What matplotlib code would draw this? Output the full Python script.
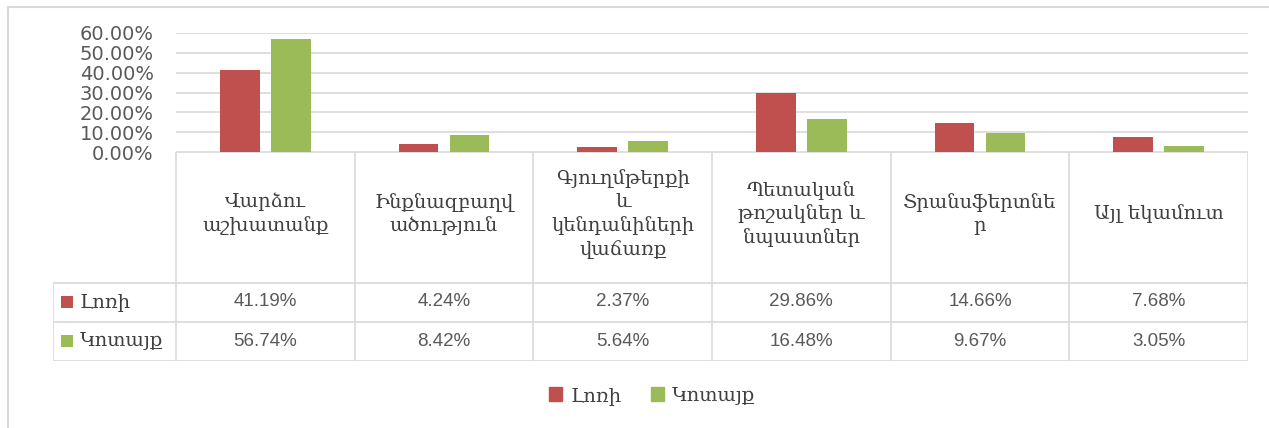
import matplotlib
matplotlib.use("Agg")
import matplotlib.pyplot as plt
from matplotlib.lines import Line2D
from matplotlib.patches import Rectangle
import numpy as np

# data
categories = ["Վարձու\nաշխատանք", "Ինքնազբաղվ\nածություն",
              "Գյուղմթերքի\nև\nկենդանիների\nվաճառք",
              "Պետական\nթոշակներ և\nնպաստներ", "Տրանսֆերտնե\nր", "Այլ եկամուտ"]
series_names = ["Լոռի", "Կոտայք"]
lori = [41.19, 4.24, 2.37, 29.86, 14.66, 7.68]
kotayk = [56.74, 8.42, 5.64, 16.48, 9.67, 3.05]
colors = ["#C0504D", "#9BBB59"]
yticks = [0, 10, 20, 30, 40, 50, 60]

W, H = 1269, 428
GRID = "#d9d9d9"
TXT = "#595959"
ARM = ["DejaVu Serif", "DejaVu Sans"]

fig = plt.figure(figsize=(W / 100, H / 100), dpi=100)

def fx(px):
    return px / W

def fy(py):
    return 1 - py / H

# chart border (left and top only, rest cut off)
fig.add_artist(Line2D([fx(8), fx(8)], [fy(7), fy(428)], color=GRID, lw=1.5))
fig.add_artist(Line2D([fx(8), fx(1269)], [fy(7), fy(7)], color=GRID, lw=1.5))

# bar axes
ax = fig.add_axes([fx(176), fy(152), fx(1248) - fx(176), fy(33) - fy(152)])
n = len(categories)
x = np.arange(n) + 0.5
bw = 0.222
ax.bar(x - 0.143, lori, bw, color=colors[0], zorder=3)
ax.bar(x + 0.143, kotayk, bw, color=colors[1], zorder=3)
ax.set_xlim(0, n)
ax.set_ylim(0, 60)
ax.set_yticks(yticks)
ax.set_yticklabels(["%.2f%%" % v for v in yticks], fontsize=14, color=TXT)
ax.tick_params(axis="y", length=0, pad=16)
ax.set_xticks([])
ax.grid(axis="y", color=GRID, lw=1.2, zorder=0)
for s in ax.spines.values():
    s.set_visible(False)

# data table below
tab = fig.add_axes([fx(53), fy(361), fx(1248) - fx(53), fy(152) - fy(361)])
lab_w = 123 / 178.67
tab.set_xlim(-lab_w, n)
tab.set_ylim(209, 0)
tab.axis("off")
lk = dict(color=GRID, lw=1.2)
tab.plot([0, n], [0, 0], **lk)
for yy in [131, 170, 209]:
    tab.plot([-lab_w, n], [yy, yy], **lk)
for i in range(n + 1):
    tab.plot([i, i], [0, 209], **lk)
tab.plot([-lab_w, -lab_w], [131, 209], **lk)

for i, c in enumerate(categories):
    tab.text(i + 0.5, 62, c, ha="center", va="center", fontsize=14,
             color="#404040", family=ARM, linespacing=1.33)

rows = [lori, kotayk]
for r, vals in enumerate(rows):
    yc = 150 + 39 * r
    tab.add_patch(Rectangle((-lab_w + 8 / 178.67, yc - 6), 12 / 178.67, 12,
                            color=colors[r], lw=0))
    tab.text(-lab_w + 27 / 178.67, yc, series_names[r], ha="left", va="center",
             fontsize=14, color="#404040", family=ARM)
    for i, v in enumerate(vals):
        tab.text(i + 0.5, yc, "%.2f%%" % v, ha="center", va="center",
                 fontsize=13.5, color=TXT, family="Liberation Sans")

# legend
handles = [Rectangle((0, 0), 1, 1, color=c) for c in colors]
leg = fig.legend(handles, series_names, loc="center", bbox_to_anchor=(fx(652), fy(396)),
                 ncol=2, frameon=False, handlelength=0.7, handleheight=0.7,
                 handletextpad=0.4, columnspacing=1.5,
                 prop={"family": ARM, "size": 14})
for t in leg.get_texts():
    t.set_color("#404040")

fig.savefig("out.png", dpi=100)
